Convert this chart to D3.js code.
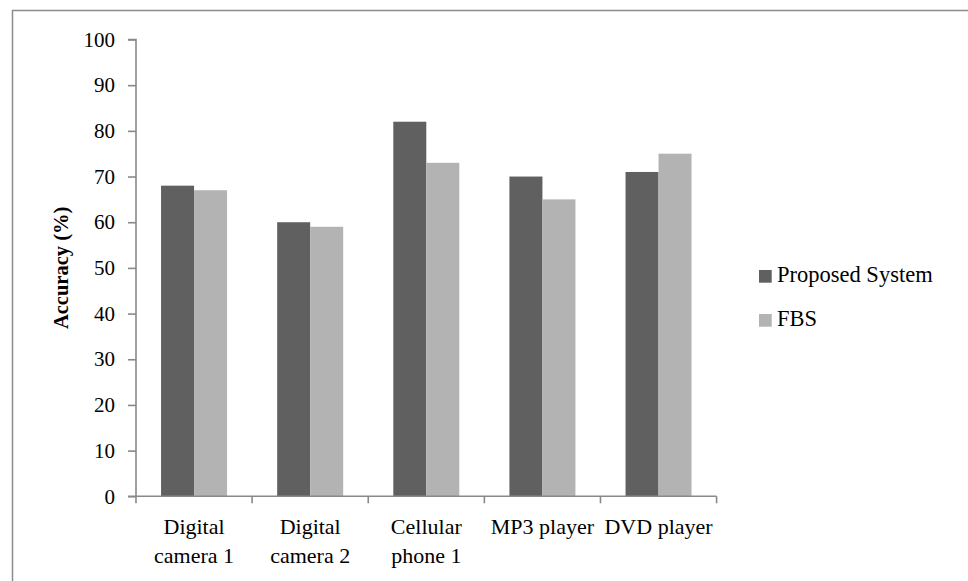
<!DOCTYPE html>
<html>
<head>
<meta charset="utf-8">
<script src="https://cdn.jsdelivr.net/npm/d3@7"></script>
<style>
  html, body { margin: 0; padding: 0; background: #fff; }
  svg { display: block; }
  text { font-family: "Liberation Serif", "Times New Roman", serif; fill: #000; }
</style>
</head>
<body>
<svg id="chart" width="968" height="581"></svg>
<script>
const categories = [["Digital", "camera 1"], ["Digital", "camera 2"], ["Cellular", "phone 1"], ["MP3 player"], ["DVD player"]];
const seriesNames = ["Proposed System", "FBS"];
const proposedValues = [68, 60, 82, 70, 71];
const fbsValues = [67, 59, 73, 65, 75];
const yTicks = [0, 10, 20, 30, 40, 50, 60, 70, 80, 90, 100];
const yTitle = "Accuracy (%)";
const colors = ["#606060", "#b3b3b3"];

const svg = d3.select("#chart");
const axisColor = "#898989";

// outer frame (only top & left visible)
svg.append("rect").attr("x", 12.5).attr("y", 10.5).attr("width", 1200).attr("height", 1200)
  .attr("fill", "none").attr("stroke", "#8c8c8c").attr("stroke-width", 1.5);

const catKeys = categories.map(c => c.join(" "));
const x0 = d3.scaleBand().domain(catKeys).range([136, 716.6]).paddingInner(0).paddingOuter(0);
const x1 = d3.scaleBand().domain(seriesNames).range([0, x0.bandwidth()]).paddingInner(0).paddingOuter(0.759);
const y = d3.scaleLinear().domain([0, 100]).range([496.3, 39.5]);

const data = catKeys.map((k, i) => ({ key: k, values: [proposedValues[i], fbsValues[i]] }));

// bars
const g = svg.append("g");
g.selectAll("g.cat").data(data).join("g").attr("class", "cat")
  .attr("transform", d => `translate(${x0(d.key)},0)`)
  .selectAll("rect").data(d => d.values.map((v, j) => ({ s: seriesNames[j], v, j })))
  .join("rect")
  .attr("x", d => x1(d.s))
  .attr("width", x1.bandwidth())
  .attr("y", d => y(d.v))
  .attr("height", d => y(0) - y(d.v))
  .attr("fill", d => colors[d.j]);

// y axis
const yAxis = d3.axisLeft(y).tickValues(yTicks).tickSize(8).tickPadding(13).tickFormat(d3.format("d"));
const ya = svg.append("g").attr("transform", "translate(136,0)").call(yAxis);
ya.select(".domain").attr("stroke", axisColor).attr("stroke-width", 1.6).attr("d", `M-8,${y(100)}H0V${y(0)}`);
ya.selectAll(".tick line").attr("stroke", axisColor).attr("stroke-width", 1.6);
ya.selectAll(".tick text").attr("font-size", 21).attr("font-family", "Liberation Serif").attr("fill", "#000");

// x axis
const xa = svg.append("g").attr("transform", `translate(0,${y(0)})`);
xa.append("line").attr("x1", 128).attr("x2", 716.6).attr("y1", 0).attr("y2", 0)
  .attr("stroke", axisColor).attr("stroke-width", 1.6);
const boundaries = catKeys.map(k => x0(k)).concat([x0(catKeys[catKeys.length - 1]) + x0.bandwidth()]);
xa.selectAll("line.tk").data(boundaries).join("line").attr("class", "tk")
  .attr("x1", d => d).attr("x2", d => d).attr("y1", 0).attr("y2", 7)
  .attr("stroke", axisColor).attr("stroke-width", 1.6);

// category labels
const labels = svg.append("g");
categories.forEach((lines, i) => {
  const cx = x0(catKeys[i]) + x0.bandwidth() / 2;
  const t = labels.append("text").attr("text-anchor", "middle").attr("font-size", 22);
  lines.forEach((ln, li) => {
    t.append("tspan").attr("x", cx).attr("y", 534 + li * 29).text(ln);
  });
});

// y title
svg.append("text")
  .attr("transform", `translate(68,${(y(0) + y(100)) / 2}) rotate(-90)`)
  .attr("text-anchor", "middle")
  .attr("font-size", 20.5).attr("font-weight", "bold")
  .text(yTitle);

// legend
const leg = svg.append("g");
seriesNames.forEach((s, i) => {
  const yy = 270 + i * 44;
  leg.append("rect").attr("x", 759).attr("y", yy).attr("width", 12.7).attr("height", 12.7).attr("fill", colors[i]);
  leg.append("text").attr("x", 777).attr("y", yy + 12.3).attr("font-size", 22.5).text(s);
});
</script>
</body>
</html>
